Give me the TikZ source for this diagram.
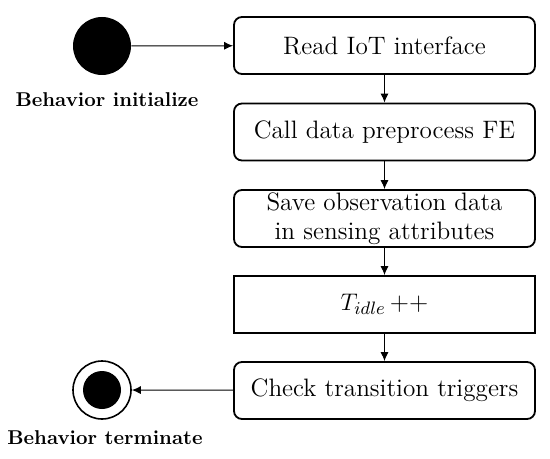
\documentclass[tikz,border=0pt]{standalone}
\usepackage{tikz}
\usetikzlibrary{arrows.meta}

\begin{document}
\begin{tikzpicture}[x=0.5pt,y=-0.5pt,
  act/.style={draw,line width=0.9pt,rounded corners=4pt,minimum width=150.5pt,
    minimum height=28.5pt,align=center,font=\fontsize{12.6}{14.5}\selectfont,inner sep=1pt},
  lbl/.style={font=\normalsize\bfseries},
  flow/.style={-{Latex[length=4.5pt,width=4pt]},line width=0.5pt}]
\useasboundingbox (0,0) rectangle (550,459);

% start and end states
\node[circle,fill,minimum size=29pt,inner sep=0pt] (init) at (102,46) {};
\node[lbl] (initlbl) at (107,100) {Behavior initialize};
\node[circle,draw,line width=0.8pt,minimum size=29pt,inner sep=0pt] (term) at (102,390) {};
\node[circle,fill,minimum size=19pt,inner sep=0pt] (termdot) at (term) {};
\node[lbl] (termlbl) at (105,438) {Behavior terminate};

% activities
\node[act] (read) at (384.5,45.5) {Read IoT interface};
\node[act] (call) at (384.5,132) {Call data preprocess FE};
\node[act] (save) at (384.5,218.5) {Save observation data\\in sensing attributes};
\node[act,sharp corners] (tidle) at (384.5,304.5) {$T_{idle}$\,++};
\node[act] (check) at (384.5,390.5) {Check transition triggers};

\draw[flow] (init) -- (read);
\draw[flow] (read) -- (call);
\draw[flow] (call) -- (save);
\draw[flow] (save) -- (tidle);
\draw[flow] (tidle) -- (check);
\draw[flow] (check) -- (term);
\end{tikzpicture}
\end{document}
